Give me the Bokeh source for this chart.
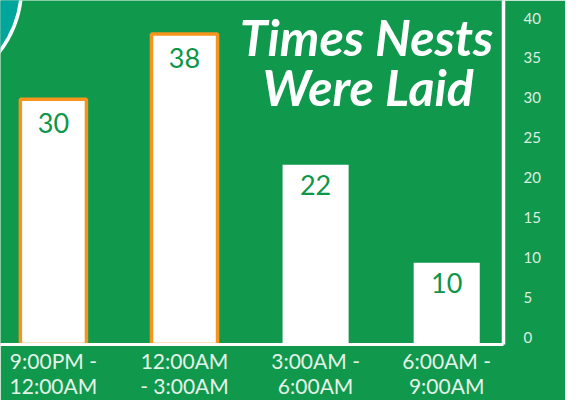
from bokeh.plotting import figure
from bokeh.models import (Range1d, LinearAxis, FixedTicker, ColumnDataSource, Label)
from bokeh.core.properties import value
from bokeh.embed import file_html
from bokeh.resources import INLINE

# ---- data ----
categories = ["9:00PM -\n12:00AM", "12:00AM\n- 3:00AM", "3:00AM -\n6:00AM", "6:00AM -\n9:00AM"]
nests = [30, 38, 22, 10]
highlight = [1, 1, 0, 0]
y_ticks = [0, 5, 10, 15, 20, 25, 30, 35, 40]
title_lines = ["Times Nests", "Were Laid"]

# ---- layout constants ----
W, H = 565, 400
FW, FH = 503, 346
PX_X = 131.1      # px per category step
PX_Y = 8.22       # px per unit (bars)
PX_T = 8.02       # px per unit (tick axis)
X0 = -52.9 / PX_X
X1 = X0 + FW / PX_X
Y1 = FH / PX_Y
T0 = -7.5 / PX_T
T1 = T0 + FH / PX_T

GREEN = "#10984c"
ORANGE = "#f7941d"
TEAL = "#00a59b"


def px_x(px):
    return X0 + px / PX_X


def px_y(py):
    return Y1 - py / PX_Y


p = figure(width=W, height=H, output_backend="svg", toolbar_location=None,
           x_range=Range1d(X0, X1), y_range=Range1d(0, Y1),
           y_axis_location=None,
           min_border_left=0, min_border_right=W - FW,
           min_border_top=0, min_border_bottom=H - FH)
p.background_fill_color = GREEN
p.border_fill_color = GREEN
p.outline_line_color = None
p.xgrid.visible = False
p.ygrid.visible = False

# decorative teal circle top-left
p.circle(x=[px_x(-84)], y=[px_y(-13)], radius=105, radius_units="screen",
         fill_color=TEAL, line_color="white", line_width=3.5)

src = ColumnDataSource(dict(
    x=list(range(len(nests))), top=nests,
    la=[1.0 if h else 0.0 for h in highlight],
    yo=[20 + 4 * h for h in highlight],
    lab=[str(v) for v in nests],
))
p.vbar(x="x", top="top", bottom=0, width=0.504, source=src,
       fill_color="white", line_color=ORANGE, line_alpha="la", line_width=3.5)

p.text(x="x", y="top", text="lab", source=src, y_offset="yo",
       text_align="center", text_baseline="middle",
       text_font=value("Lato"), text_font_size="27px", text_color="#0d964a")

# title
for i, t in enumerate(title_lines):
    cx = [366, 367.6][i]
    cy = [36.5, 86.5][i]
    p.add_layout(Label(x=px_x(cx), y=px_y(cy), text=t, text_align="center",
                       text_baseline="middle", text_font="Lato",
                       text_font_style="bold italic", text_font_size="50px",
                       text_color="white"))

# x axis
xa = p.xaxis[0]
xa.ticker = FixedTicker(ticks=list(range(len(categories))))
xa.major_label_overrides = {i: c for i, c in enumerate(categories)}
xa.axis_line_color = "white"
xa.axis_line_width = 3
xa.major_tick_line_color = None
xa.minor_tick_line_color = None
xa.major_label_standoff = -3
xa.major_label_text_font = "Lato"
xa.major_label_text_font_size = "21px"
xa.major_label_text_line_height = 1.0
xa.major_label_text_color = "#e4f3e8"

# right tick axis
p.extra_y_ranges = {"ticks": Range1d(T0, T1)}
ya = LinearAxis(y_range_name="ticks", ticker=FixedTicker(ticks=y_ticks))
ya.axis_line_color = "white"
ya.axis_line_width = 3.5
ya.major_tick_line_color = None
ya.minor_tick_line_color = None
ya.major_label_standoff = 14
ya.major_label_text_font = "Lato"
ya.major_label_text_font_size = "15px"
ya.major_label_text_color = "#dcefe2"
p.add_layout(ya, "right")

open("out.html", "w").write(file_html(p, INLINE))
